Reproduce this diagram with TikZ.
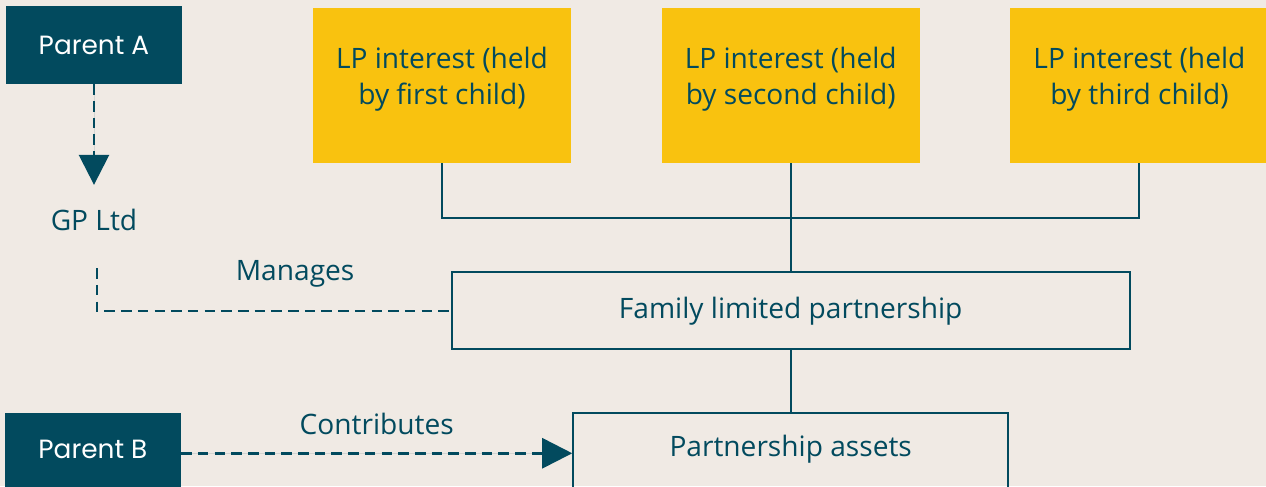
\documentclass[tikz,border=0pt]{standalone}
\usepackage{fontspec}
\setmainfont{Open Sans}
\newfontfamily\parentfont{Poppins}
\definecolor{fmTeal}{HTML}{024A5E}
\definecolor{fmSand}{HTML}{F0EAE4}
\definecolor{fmYellow}{HTML}{F9C20F}
\usepackage{tikz}
\usetikzlibrary{arrows.meta,positioning}

\begin{document}
\begin{tikzpicture}[
    node distance=1.8cm,
    every node/.style={font=\fontsize{16}{20.4}\selectfont, text=fmTeal},
    parent/.style={fill=fmTeal, text=white, minimum width=3.52cm,
                   minimum height=1.56cm, font=\parentfont\fontsize{15}{18}\selectfont},
    lpbox/.style={fill=fmYellow, minimum width=5.16cm, minimum height=3.1cm},
    lptext/.style={align=center},
    outline/.style={draw=fmTeal, line width=1.1pt, minimum height=1.54cm},
    link/.style={draw=fmTeal, line width=1.1pt},
    dashlink/.style={link, line width=1.5pt, dash pattern=on 6pt off 3.5pt},
    dasharr/.style={dashlink, -{Triangle[length=0.6cm, width=0.6cm]}, fill=fmTeal}
  ]
    \useasboundingbox (0,0) rectangle (25.32,-9.72);
    \clip (0,0) rectangle (25.32,-9.72);
    \fill[fmSand] (0,0) rectangle (25.32,-9.72);

    % General partner side
    \node[parent] (pa) at (1.88,-0.9) {Parent A};
    \node[inner ysep=0.48cm] (gp) at (1.88,-4.4) {GP Ltd};
    \coordinate[below=0.26cm of gp, xshift=0.06cm] (mg);

    % Limited partner interests
    \node[lpbox] (lp1) at (8.84,-1.71) {};
    \node[lpbox, right=of lp1] (lp2) {};
    \node[lpbox, right=of lp2] (lp3) {};
    \node[lptext] (lp1t) at ([yshift=0.13cm]lp1.center) {LP interest (held\\by first child)};
    \node[lptext] (lp2t) at ([yshift=0.13cm]lp2.center) {LP interest (held\\by second child)};
    \node[lptext] (lp3t) at ([yshift=0.13cm]lp3.center) {LP interest (held\\by third child)};

    \node[outline, minimum width=13.56cm, below=2.16cm of lp2] (flp) {Family limited partnership};
    % bottom row runs off the lower edge
    \node[outline, minimum width=8.7cm, minimum height=1.6cm, text depth=8.5pt,
          below=1.24cm of flp] (assets) {Partnership assets};
    \node[parent, minimum height=1.6cm, text depth=4.5pt, left=7.82cm of assets] (pb) {Parent B};

    \draw[dasharr] (pa) -- (gp);
    \draw[dashlink] (mg) |- node[pos=0.78, yshift=0.74cm] {Manages} (flp.west);

    \draw[link] (lp1.south) -- ++(0,-1.1) -| (lp3.south);
    \draw[link] (lp2) -- (flp);
    \draw[link] (flp) -- (assets);

    \draw[dasharr] (pb) -- node[yshift=0.58cm] {Contributes} (assets);
  \end{tikzpicture}
\end{document}
